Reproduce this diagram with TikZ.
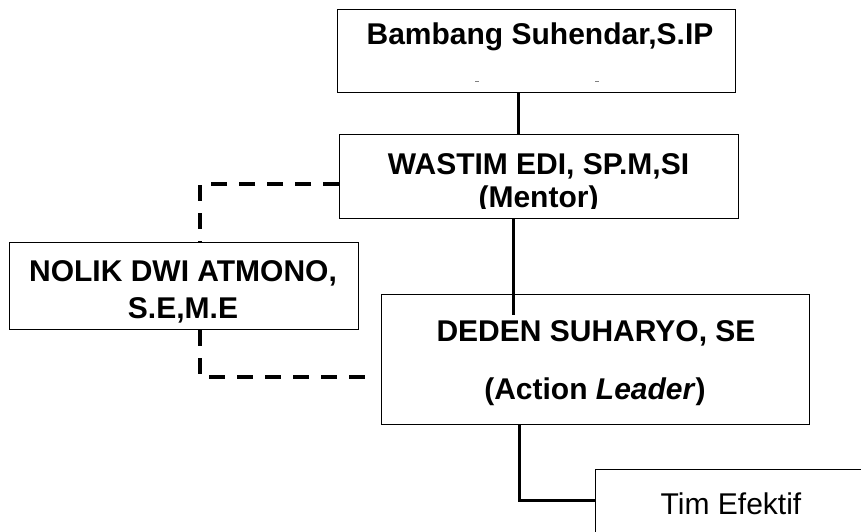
\documentclass[tikz,border=0pt]{standalone}
\usepackage{fontspec}
\setmainfont{Liberation Sans}
\begin{document}
\begin{tikzpicture}[x=1pt,y=-1pt,
  boxstyle/.style={draw=black,line width=1.3pt,inner sep=0pt,anchor=north west},
  lbl/.style={inner sep=0pt,anchor=base,font=\fontsize{30}{34}\selectfont\bfseries},
  lblr/.style={inner sep=0pt,anchor=base,font=\fontsize{30}{34}\selectfont},
  solidcon/.style={line width=3pt},
  dashcon/.style={line width=3.5pt,dash pattern=on 16pt off 12pt}]
\clip (0,0) rectangle (861,531);
\fill[white] (0,0) rectangle (861,531);
% boxes
\node[boxstyle,minimum width=398pt,minimum height=83pt] (b1) at (337,9) {};
\node[boxstyle,minimum width=399pt,minimum height=84pt] (b2) at (339,134) {};
\node[boxstyle,minimum width=349pt,minimum height=87pt] (b3) at (9,242) {};
\node[boxstyle,minimum width=428pt,minimum height=130pt] (b4) at (381,294) {};
\node[boxstyle,minimum width=320pt,minimum height=100pt] (b5) at (595,469) {};
% texts
\node[lbl] (t1) at (540,44) {Bambang Suhendar,S.IP};
\draw[gray,line width=0.8pt] (475,81) -- (479,81) (595,81) -- (599,81);
\node[lbl] (t2a) at (538.5,174) {WASTIM EDI, SP.M,SI};
\begin{scope}
\clip (339,180) rectangle (738,208.5);
\node[lbl] (t2b) at (538.5,207) {(Mentor)};
\end{scope}
\node[lbl] (t3a) at (183,281) {NOLIK DWI ATMONO,};
\node[lbl] (t3b) at (183,318) {S.E,M.E};
\node[lbl] (t4a) at (596,341) {DEDEN SUHARYO, SE};
\node[lbl] (t4b) at (595,399) {(Action \textit{Leader})};
\node[lblr] (t5) at (731,514) {Tim Efektif};
% helper coordinates
\coordinate (v1) at (518,0);
\coordinate (v2) at (513,315);
\coordinate (v3) at (519,500);
\coordinate (d1) at (200,184);
\coordinate (d2) at (365,377);
% connectors
\draw[solidcon] (b1.south -| v1) -- (b2.north -| v1);
\draw[solidcon] (b2.south -| v2) -- (v2);
\draw[solidcon] (b4.south -| v3) |- (b5.west |- v3);
\draw[dashcon] (b2.west |- d1) -| (b3.north -| d1);
\draw[dashcon] (b3.south -| d1) |- (d2);
\end{tikzpicture}
\end{document}
